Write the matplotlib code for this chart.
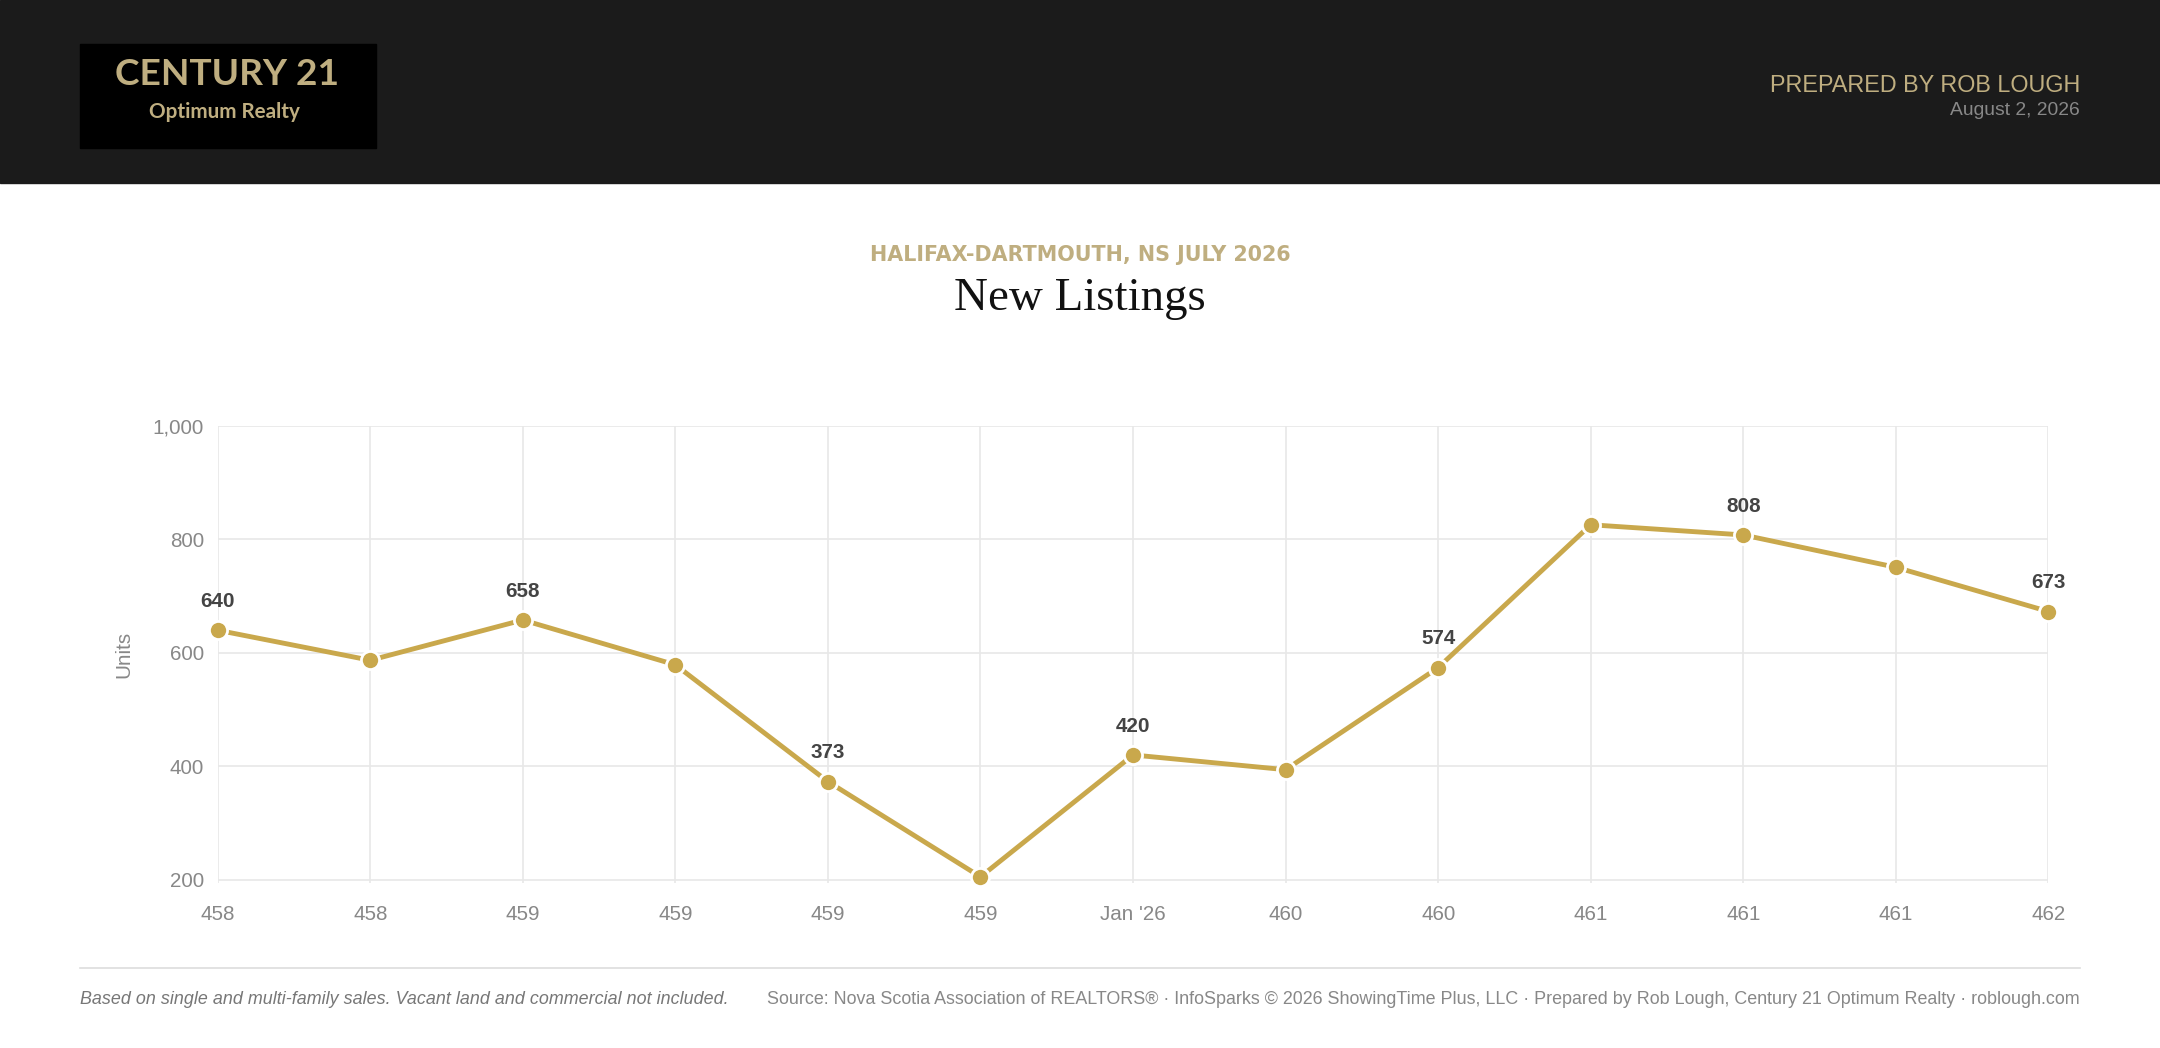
import matplotlib.pyplot as plt
from matplotlib.patches import Rectangle

# chart data
months = ['458', '458', '459', '459', '459', '459', "Jan '26", '460', '460', '461', '461', '461', '462']
new_listings = [640, 587, 658, 579, 373, 205, 420, 394, 574, 826, 808, 751, 673]
labeled = [0, 2, 4, 6, 8, 10, 12]
y_ticks = [200, 400, 600, 800, 1000]

W, H = 1568, 760
gold = '#C9A84C'
tan = '#BFAE80'

fig = plt.figure(figsize=(21.6, 10.48), dpi=100)


def pt(px):
    # font size in points from pixel size measured on the 1568-wide reference
    return px * 2160 / W * 0.72


def fy(y):
    return 1 - y / H


def fx(x):
    return x / W


# header band
fig.patches.append(Rectangle((0, fy(133)), 1, 133 / H, transform=fig.transFigure,
                             color='#1b1b1b', zorder=0))
fig.patches.append(Rectangle((fx(58), fy(107)), 215 / W, 75 / H, transform=fig.transFigure,
                             color='#000000', zorder=1))
fig.text(fx(165), fy(54), 'CENTURY 21', color=tan, fontsize=pt(27),
         fontweight='bold', ha='center', va='center', family='Lato')
fig.text(fx(163), fy(81), 'Optimum Realty', color=tan, fontsize=pt(15),
         ha='center', va='center', family='Lato', fontweight='bold')
fig.text(fx(1510), fy(62), 'PREPARED BY ROB LOUGH', color=tan, fontsize=pt(17),
         ha='right', va='center', family='Liberation Sans')
fig.text(fx(1510), fy(80), 'August 2, 2026', color='#888888', fontsize=pt(14),
         ha='right', va='center', family='Liberation Sans')

# titles
fig.text(0.5, fy(185), 'HALIFAX-DARTMOUTH, NS JULY 2026',
         color=tan, fontsize=pt(15), fontweight='bold', ha='center', va='center',
         family='DejaVu Sans')
fig.text(0.5, fy(217), 'New Listings', color='#111111', fontsize=pt(34),
         ha='center', va='center', family='Liberation Serif')

# chart
ax = fig.add_axes([fx(158), fy(640), (1487 - 158) / W, 331 / H])
x = list(range(len(months)))
ax.plot(x, new_listings, color=gold, lw=3.5, zorder=3, clip_on=False)
ax.scatter(x, new_listings, s=170, color=gold, edgecolor='white', linewidth=2, zorder=4,
           clip_on=False)
for i in labeled:
    ax.annotate(str(new_listings[i]), (i, new_listings[i]), xytext=(0, 14),
                textcoords='offset points', ha='center', va='bottom',
                fontsize=pt(15), fontweight='bold', color='#444444',
                family='Liberation Sans')
ax.set_ylim(195, 1000)
ax.set_xlim(0, len(months) - 1)
ax.set_yticks(y_ticks)
ax.set_yticklabels([f'{v:,}' for v in y_ticks])
ax.set_xticks(x)
ax.set_xticklabels(months)
ax.grid(True, color='#e8e8e8', lw=1.2)
for sp in ax.spines.values():
    sp.set_visible(False)
ax.tick_params(length=0, labelsize=pt(15), labelcolor='#888888', pad=10)
ax.tick_params(axis='x', pad=16)
for lab in ax.get_xticklabels() + ax.get_yticklabels():
    lab.set_family('Liberation Sans')
ax.set_ylabel('Units', fontsize=pt(15), color='#888888', family='Liberation Sans',
              labelpad=14)

# footer
fig.add_artist(plt.Line2D([fx(58), fx(1510)], [fy(702), fy(702)], color='#dddddd', lw=1.2,
                          transform=fig.transFigure))
fig.text(fx(58), fy(725), 'Based on single and multi-family sales. Vacant land and commercial not included.',
         fontsize=pt(13), color='#777777', style='italic', ha='left', va='center',
         family='Liberation Sans')
fig.text(fx(1510), fy(725),
         'Source: Nova Scotia Association of REALTORS® · InfoSparks © 2026 ShowingTime Plus, LLC · '
         'Prepared by Rob Lough, Century 21 Optimum Realty · roblough.com',
         fontsize=pt(13), color='#888888', ha='right', va='center', family='Liberation Sans')

fig.savefig('out.png', dpi=100, facecolor='white')
